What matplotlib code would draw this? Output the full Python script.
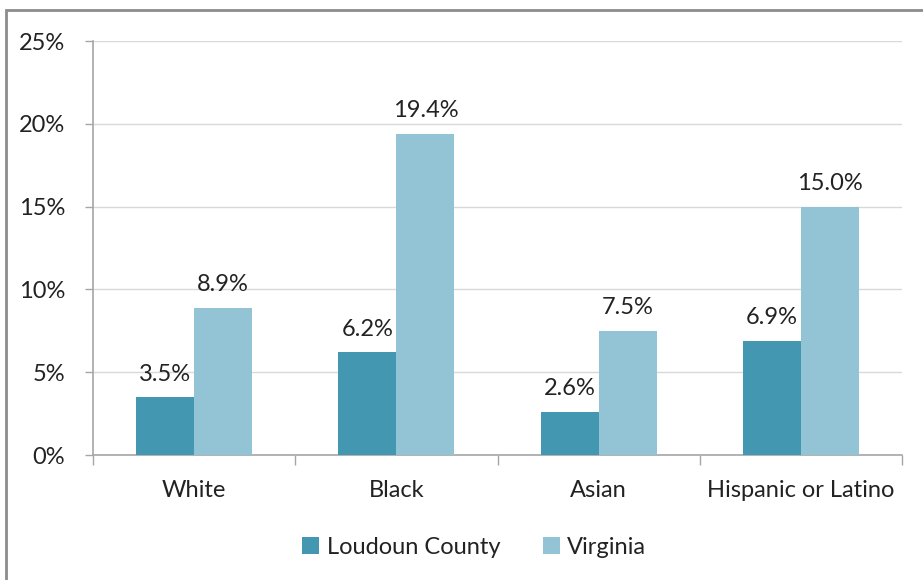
import matplotlib
matplotlib.use("Agg")
import matplotlib.pyplot as plt
from matplotlib.patches import Rectangle
import numpy as np

categories = ["White", "Black", "Asian", "Hispanic or Latino"]
loudoun = [3.5, 6.2, 2.6, 6.9]
virginia = [8.9, 19.4, 7.5, 15.0]
series_names = ["Loudoun County", "Virginia"]
y_ticks = [0, 5, 10, 15, 20, 25]

dark = "#4397b0"
light = "#93c4d6"
text_col = "#222222"
axis_col = "#a6a6a6"
fs = 17

plt.rcParams['font.family'] = ['Lato', 'DejaVu Sans']

fig = plt.figure(figsize=(9.23, 5.8), dpi=100)
ax = fig.add_axes([93 / 923, 125 / 580, 809 / 923, 414 / 580])

x = np.arange(len(categories))
w = 0.287
b1 = ax.bar(x - w / 2, loudoun, w, color=dark, label=series_names[0], zorder=3)
b2 = ax.bar(x + w / 2, virginia, w, color=light, label=series_names[1], zorder=3)

for bars, vals in ((b1, loudoun), (b2, virginia)):
    for bar, v in zip(bars, vals):
        ax.annotate(f"{v:.1f}%", (bar.get_x() + bar.get_width() / 2, v),
                    xytext=(0, 9), textcoords="offset points",
                    ha="center", va="bottom", fontsize=fs, color=text_col)

ax.set_xlim(-0.5, len(categories) - 0.5)
ax.set_ylim(0, 25)
ax.set_yticks(y_ticks)
ax.set_yticklabels([f"{t}%" for t in y_ticks])
ax.yaxis.grid(True, color="#d9d9d9", linewidth=1, zorder=0)

ax.set_xticks(x)
ax.set_xticklabels(categories)
ax.set_xticks(np.arange(len(categories) + 1) - 0.5, minor=True)
ax.tick_params(axis="x", which="major", length=0, pad=18, labelsize=fs, labelcolor=text_col)
ax.tick_params(axis="x", which="minor", length=7, color=axis_col, width=1)
ax.tick_params(axis="y", length=6, color=axis_col, width=1, pad=14, labelsize=fs, labelcolor=text_col)

for s in ("top", "right"):
    ax.spines[s].set_visible(False)
for s in ("left", "bottom"):
    ax.spines[s].set_color(axis_col)
    ax.spines[s].set_linewidth(1.2)

fig.legend(loc="center", bbox_to_anchor=(474 / 923, 1 - 547 / 580), ncol=2, frameon=False,
           fontsize=fs, handlelength=0.75, handleheight=0.75, handletextpad=0.3,
           columnspacing=1.8, labelcolor=text_col)

# outer frame around the chart
fig.patches.append(Rectangle((6 / 923, -0.1), 1.1, 1 - 10 / 580 + 0.1,
                             transform=fig.transFigure, fill=False,
                             edgecolor="#8c8c8c", linewidth=2))

fig.savefig("out.png", dpi=100)
